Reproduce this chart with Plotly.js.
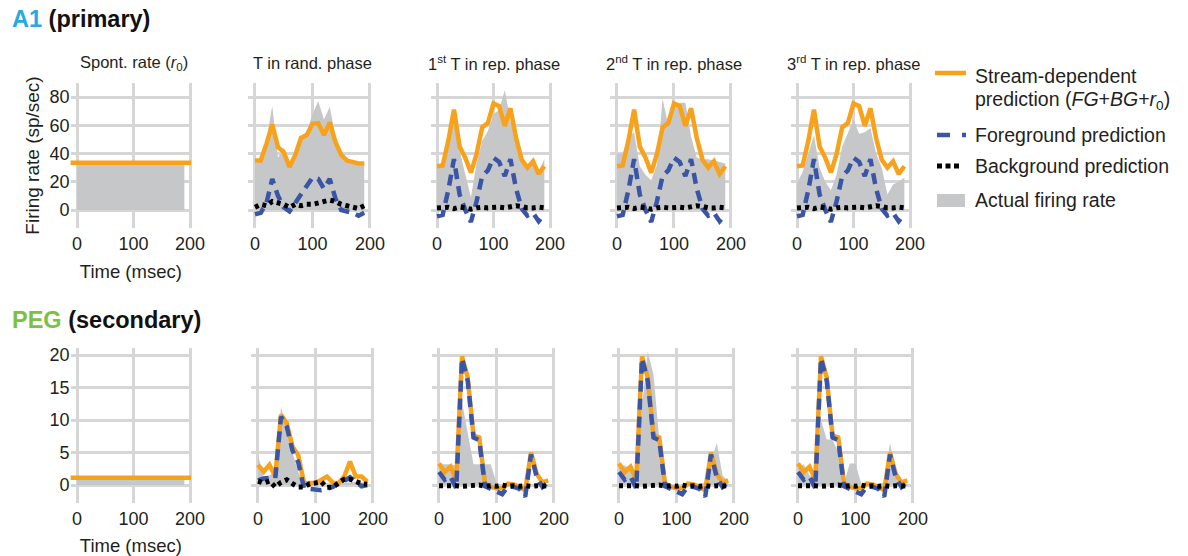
<!DOCTYPE html>
<html><head><meta charset="utf-8">
<script src="https://cdn.plot.ly/plotly-3.0.1.min.js"></script>
<style>html,body{margin:0;padding:0;background:#fff}#chart{width:1188px;height:556px}</style>
</head><body><div id="chart"></div>
<script>
// ---------- data ----------
const timeMs = [0,10,20,30,40,50,60,70,80,90,100,110,120,130,140,150,160,170,180,190];
const spontTime = [0, 190];
const spontLineTime = [-12, 203];

const panelTitles = ["Spont. rate (<i>r</i><sub>0</sub>)", "T in rand. phase",
  "1<sup>st</sup> T in rep. phase", "2<sup>nd</sup> T in rep. phase", "3<sup>rd</sup> T in rep. phase"];

// A1 (primary)
const a1SpontActual = [33, 33];
const a1SpontPred = [33.5, 33.5];
const a1RandActual = [33, 35, 50, 74, 37, 44, 31, 42, 52, 55, 68, 77, 64, 73, 52, 37, 36, 33, 33, 33];
const a1RandPred   = [35, 35, 47, 60.5, 44.5, 41, 30.5, 39, 51, 53, 61, 61.5, 53, 62, 48, 39, 35, 34, 33, 33];
const a1RandFG     = [-3, -2, 5, 22, 10, 2, -1, 5, 12, 18, 23, 22, 15, 22, 8, 0, -1, -2, -4, -2];
const a1RandBG     = [2, 4, 3, 6, 5, 4, 2, 4, 3, 4, 4, 5, 6, 7, 6, 4, 3, 2, 1, 3];
const a1RepPred    = [31, 31.5, 49, 71, 45, 37, 26.5, 39.5, 58.5, 61.5, 75.5, 73.5, 59.5, 72, 51, 35.5, 30, 34.5, 25.5, 31];
const a1RepFG      = [-4.5, -3.5, 14, 36, 11, 0, -8.5, 6, 24, 28, 37, 34, 24, 36, 15, 1, -4, -2, -8, -3];
const a1RepBG      = [1.5, 2, 2, 1, 2, 1.5, 0.5, 1.5, 2, 1.5, 2, 2, 1.5, 2, 3, 2.5, 1.5, 1.5, 2, 1.5];
const a1Rep1Actual = [31, 31, 46, 69, 42, 26, 9, 33, 49, 56, 68, 71, 85, 63, 49, 38, 30, 37, 28, 36];
const a1Rep2Actual = [40, 40, 52, 55, 31, 25, 21, 32, 79, 60, 76, 76, 76, 52, 37, 36, 36, 35, 34, 33];
const a1Rep3Actual = [19, 27, 40, 53, 30, 20, 14, 25, 45, 55, 64, 54, 55, 58, 40, 30, 11, 18, 20, 23];

// PEG (secondary)
const pegSpontActual = [0.8, 0.8];
const pegSpontPred = [1.1, 1.1];
const pegRandActual = [4.6, 1.2, 1.5, 2.0, 12.0, 8.5, 5.0, 2.0, 0.2, 0.2, 0.2, 0.3, 0.3, 0.3, 0.3, 0.3, 0.4, 0.5, 0.4, 0.5];
const pegRandPred   = [3.1, 2.05, 3.1, 1.3, 10.8, 9.5, 5.9, 4.6, 0.26, 0.26, 0.36, 0.77, 1.3, 0.36, 0.26, 1.3, 3.6, 1.3, 1.3, 0.5];
const pegRandFG     = [0.7, 1.0, 1.1, 1.0, 10.5, 9.0, 5.3, 3.5, -0.5, -0.6, -0.7, -0.8, -0.6, -0.3, 0.2, 0.6, 1.2, 0.5, -0.2, 0];
const pegRandBG     = [0.6, 0.3, 0.6, -0.3, 0.4, 0.8, 0.2, -0.3, -0.3, 0.2, 0.3, 0.5, -0.4, -0.3, 0.3, 0.9, 0.9, 0.5, 0.2, 0.1];
const pegRepPred    = [3.3, 2.0, 2.8, 0.8, 19.8, 16.5, 7.6, 7.3, 0.3, -0.3, -0.5, -0.5, 0.2, 0.1, -0.3, -0.8, 5.0, 1.7, 0.4, 0.7];
const pegRepFG      = [2.0, 0.8, 1.3, -0.5, 19.5, 16.0, 7.3, 6.9, -0.2, -0.6, -1.1, -1.4, -0.2, -0.3, -0.6, -1.8, 4.7, 1.2, -0.3, 0.5];
const pegRepBG      = [-0.1, -0.1, 0, -0.1, -0.2, -0.1, -0.1, 0, -0.2, -0.1, -0.2, 0, -0.2, -0.1, -0.2, -0.1, -0.2, -0.1, -0.2, -0.1];
const pegRep1Actual = [3.2, 3.2, 3.2, 3.0, 12.8, 8.0, 3.2, 3.2, 3.2, 3.2, 0.3, 0, 0, 0, 0, 0, 0, 0, 0, 0];
const pegRep2Actual = [3.0, 3.0, 2.5, 1.0, 12.0, 20.5, 17.0, 7.0, 0.2, 0, 0, 0, 0, 0, 0, 0.5, 3.5, 6.5, 1.5, 0.5];
const pegRep3Actual = [2.5, 3.2, 1.5, 1.0, 10.0, 7.0, 7.0, 5.0, 0.3, 3.3, 3.3, 0.2, 0, 0, 0, 0.5, 6.5, 2.0, 0.5, 0.3];

const xTicks = [0, 100, 200];
const a1YTicks = [0, 20, 40, 60, 80];
const pegYTicks = [0, 5, 10, 15, 20];

// ---------- style ----------
const FONT = "Liberation Sans, Arial, Helvetica, sans-serif";
const TXT = "#231f20";
const ORANGE = "#f8a21c", BLUE = "#3a55a5", BLACK = "#000000", GRAY = "#c6c7c9", GRID = "#d6d6d6";
const W = 1188, H = 556;
const px = p => p / W, py = p => 1 - p / H;

const xr = [-11.5, 202];
const topX0 = [77, 255, 437, 617, 797], topX200 = [190, 370, 550, 731, 910];
const botX0 = [77, 258, 439, 619, 798], botX200 = [190, 373, 554, 734, 913];
const topY = {pTop: 83, pBot: 228, zero: 210, perUnit: 1.4125};
const botY = {pTop: 348, pBot: 503, zero: 485, perUnit: 6.5};

const traces = [];
function addPanel(n, t, actual, pred, fg, bg, tLine) {
  const xa = 'x' + (n === 1 ? '' : n), ya = 'y' + (n === 1 ? '' : n);
  traces.push({x: t, y: actual, xaxis: xa, yaxis: ya, type: 'scatter', mode: 'lines',
    fill: 'tozeroy', fillcolor: GRAY, line: {width: 0, color: GRAY}, hoverinfo: 'skip', showlegend: false});
  traces.push({x: tLine || t, y: pred, xaxis: xa, yaxis: ya, type: 'scatter', mode: 'lines',
    line: {color: ORANGE, width: 4.5}, showlegend: false});
  if (fg) traces.push({x: t, y: fg, xaxis: xa, yaxis: ya, type: 'scatter', mode: 'lines',
    line: {color: BLUE, width: 4.5, dash: '11px,7px'}, showlegend: false});
  if (bg) traces.push({x: t, y: bg, xaxis: xa, yaxis: ya, type: 'scatter', mode: 'lines',
    line: {color: BLACK, width: 5, dash: '4px,4px'}, showlegend: false});
}
addPanel(1, spontTime, a1SpontActual, a1SpontPred, null, null, spontLineTime);
addPanel(2, timeMs, a1RandActual, a1RandPred, a1RandFG, a1RandBG);
addPanel(3, timeMs, a1Rep1Actual, a1RepPred, a1RepFG, a1RepBG);
addPanel(4, timeMs, a1Rep2Actual, a1RepPred, a1RepFG, a1RepBG);
addPanel(5, timeMs, a1Rep3Actual, a1RepPred, a1RepFG, a1RepBG);
addPanel(6, spontTime, pegSpontActual, pegSpontPred, null, null, spontLineTime);
addPanel(7, timeMs, pegRandActual, pegRandPred, pegRandFG, pegRandBG);
addPanel(8, timeMs, pegRep1Actual, pegRepPred, pegRepFG, pegRepBG);
addPanel(9, timeMs, pegRep2Actual, pegRepPred, pegRepFG, pegRepBG);
addPanel(10, timeMs, pegRep3Actual, pegRepPred, pegRepFG, pegRepBG);

const layout = {
  width: W, height: H, margin: {l: 0, r: 0, t: 0, b: 0},
  paper_bgcolor: '#fff', plot_bgcolor: '#fff', showlegend: false,
  font: {family: FONT, color: TXT, size: 18},
  annotations: [], shapes: []
};

function axisX(x0, x200, showTitle) {
  const s = (x200 - x0) / 200;
  const a = {domain: [px(x0 + xr[0] * s), px(x0 + xr[1] * s)], range: xr,
    tickvals: xTicks, ticks: '', showgrid: true, gridcolor: GRID, gridwidth: 3, ticklabelstandoff: 3,
    zeroline: false, showline: false, tickfont: {size: 18, color: TXT}, fixedrange: true};
  if (showTitle) a.title = {text: 'Time (msec)', font: {size: 18.5, color: TXT}, standoff: 12};
  return a;
}
function axisY(spec, ticks, showLabels, title) {
  const r = [(spec.zero - spec.pBot) / spec.perUnit, (spec.zero - spec.pTop) / spec.perUnit];
  const a = {domain: [py(spec.pBot), py(spec.pTop)], range: r, tickvals: ticks, ticks: '',
    showticklabels: showLabels, showgrid: true, gridcolor: GRID, gridwidth: 3,
    zeroline: false, showline: false, tickfont: {size: 18, color: TXT}, fixedrange: true};
  if (title) a.title = {text: title, font: {size: 19, color: TXT}, standoff: 4};
  return a;
}
for (let i = 0; i < 10; i++) {
  const n = i + 1, top = i < 5, k = i % 5;
  const xName = 'xaxis' + (n === 1 ? '' : n), yName = 'yaxis' + (n === 1 ? '' : n);
  layout[xName] = axisX(top ? topX0[k] : botX0[k], top ? topX200[k] : botX200[k], k === 0);
  layout[xName].anchor = 'y' + (n === 1 ? '' : n);
  layout[yName] = axisY(top ? topY : botY, top ? a1YTicks : pegYTicks, k === 0,
    (n === 1) ? 'Firing rate (sp/sec)' : null);
  layout[yName].anchor = 'x' + (n === 1 ? '' : n);
}
// panel titles
for (let k = 0; k < 5; k++) {
  layout.annotations.push({text: panelTitles[k], xref: 'paper', yref: 'paper',
    x: px((topX0[k] + topX200[k]) / 2), y: py(63), xanchor: 'center', yanchor: 'middle',
    showarrow: false, font: {size: 16.5, color: TXT}});
}
// section titles
layout.annotations.push({text: "<b><span style='color:#27a9e1'>A1</span> (primary)</b>", xref: 'paper', yref: 'paper',
  x: px(10), y: py(19), xanchor: 'left', yanchor: 'middle', showarrow: false, font: {size: 23.5, color: '#111'}});
layout.annotations.push({text: "<b><span style='color:#7dc142'>PEG</span> (secondary)</b>", xref: 'paper', yref: 'paper',
  x: px(10), y: py(320), xanchor: 'left', yanchor: 'middle', showarrow: false, font: {size: 23.5, color: '#111'}});
// legend
const legendItems = [
  {text: 'Stream-dependent', y: 76},
  {text: 'prediction (<i>FG</i>+<i>BG</i>+<i>r</i><sub>0</sub>)', y: 101},
  {text: 'Foreground prediction', y: 135},
  {text: 'Background prediction', y: 166},
  {text: 'Actual firing rate', y: 200}
];
legendItems.forEach(it => layout.annotations.push({text: it.text, xref: 'paper', yref: 'paper',
  x: px(973), y: py(it.y), xanchor: 'left', yanchor: 'middle', showarrow: false, font: {size: 19.5, color: TXT}}));
layout.shapes.push({type: 'line', xref: 'paper', yref: 'paper', x0: px(935), x1: px(966), y0: py(73), y1: py(73),
  line: {color: ORANGE, width: 4.5}});
layout.shapes.push({type: 'line', xref: 'paper', yref: 'paper', x0: px(937), x1: px(966), y0: py(135), y1: py(135),
  line: {color: BLUE, width: 4.5, dash: '13px,12px'}});
layout.shapes.push({type: 'line', xref: 'paper', yref: 'paper', x0: px(937), x1: px(960), y0: py(166), y1: py(166),
  line: {color: BLACK, width: 5, dash: '5px,3.5px'}});
layout.shapes.push({type: 'rect', xref: 'paper', yref: 'paper', x0: px(937), x1: px(965), y0: py(207), y1: py(194),
  fillcolor: GRAY, line: {width: 0}});

Plotly.newPlot('chart', traces, layout, {displayModeBar: false, staticPlot: true});
</script></body></html>
